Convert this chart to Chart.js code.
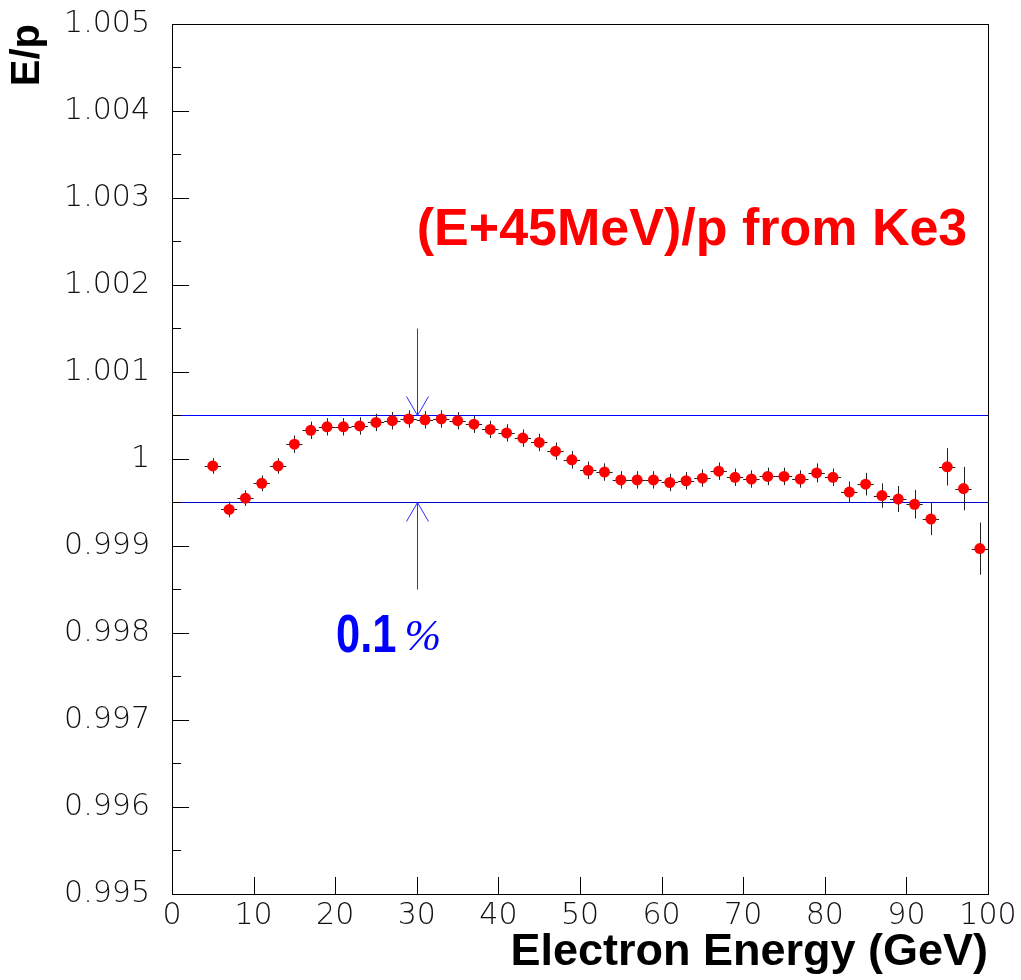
<!DOCTYPE html>
<html><head><meta charset="utf-8">
<script src="https://cdn.jsdelivr.net/npm/chart.js@4/dist/chart.umd.min.js"></script>
<style>html,body{margin:0;padding:0;background:#fff;}canvas{display:block;}</style>
</head><body>
<canvas id="c" width="1021" height="980"></canvas>
<script>
// ---- data ----
const energies = [5,7,9,11,13,15,17,19,21,23,25,27,29,31,33,35,37,39,41,43,45,47,49,51,53,55,57,59,61,63,65,67,69,71,73,75,77,79,81,83,85,87,89,91,93,95,97,99];
const ratios = [0.99992,0.99942,0.99955,0.99972,0.99992,1.00017,1.00033,1.00037,1.00037,1.00038,1.00042,1.00044,1.00046,1.00045,1.00046,1.00044,1.00040,1.00034,1.00030,1.00024,1.00019,1.00009,0.99999,0.99987,0.99985,0.99976,0.99976,0.99976,0.99973,0.99975,0.99978,0.99986,0.99979,0.99977,0.99980,0.99980,0.99977,0.99984,0.99979,0.99962,0.99971,0.99958,0.99954,0.99948,0.99931,0.99991,0.99966,0.99897];
const ratioErrors = [0.00009,0.00009,0.00009,0.00009,0.00009,0.0001,0.0001,0.0001,0.0001,0.0001,0.0001,0.0001,0.0001,0.0001,0.0001,0.0001,0.0001,0.0001,0.0001,0.0001,0.0001,0.0001,0.0001,0.0001,0.0001,0.0001,0.0001,0.0001,0.0001,0.0001,0.0001,0.0001,0.0001,0.0001,0.0001,0.0001,0.0001,0.00011,0.0001,0.00012,0.00013,0.00014,0.00015,0.000165,0.000185,0.000215,0.00025,0.0003];
const binHalfWidth = 1;
const yTickValues = [0.995,0.996,0.997,0.998,0.999,1.000,1.001,1.002,1.003,1.004,1.005];
const yMinorTickValues = [0.9955,0.9965,0.9975,0.9985,0.9995,1.0005,1.0015,1.0025,1.0035,1.0045];
const xTickValues = [0,10,20,30,40,50,60,70,80,90,100];
const bandUpper = 1.0005;
const bandLower = 0.9995;
const arrowX = 30;
const arrowDown = [1.0015, 1.0005];
const arrowUp = [0.9985, 0.9995];
const labelMain = '(E+45MeV)/p from Ke3';
const labelMainPos = [30, 1.00246];
const labelPctNum = '0.1';
const labelPctSign = '%';
const labelPctPos = [20.1, 0.99778];

const px = v => Math.round(v) + 0.5;
const pxf = v => Math.floor(v) + 0.5;

const overlay = {
  id: 'overlay',
  beforeDatasetsDraw(chart) {
    const {ctx, chartArea: a, scales: {x, y}} = chart;
    ctx.save();
    ctx.lineWidth = 1;
    // band lines
    ctx.strokeStyle = '#0000ff';
    const yu = pxf(y.getPixelForValue(bandUpper));
    ctx.beginPath(); ctx.moveTo(a.left, yu); ctx.lineTo(a.right, yu); ctx.stroke();
    ctx.strokeStyle = '#0000d0';
    const yl = px(y.getPixelForValue(bandLower));
    ctx.beginPath(); ctx.moveTo(a.left, yl); ctx.lineTo(a.right, yl); ctx.stroke();
    // error bars
    ctx.strokeStyle = '#222';
    energies.forEach((e, i) => {
      const cx = px(x.getPixelForValue(e));
      const cy = px(y.getPixelForValue(ratios[i]));
      ctx.beginPath();
      ctx.moveTo(cx, y.getPixelForValue(ratios[i] - ratioErrors[i]));
      ctx.lineTo(cx, y.getPixelForValue(ratios[i] + ratioErrors[i]));
      ctx.moveTo(x.getPixelForValue(e - binHalfWidth), cy);
      ctx.lineTo(x.getPixelForValue(e + binHalfWidth), cy);
      ctx.stroke();
    });
    ctx.restore();
  },
  afterDraw(chart) {
    const {ctx, chartArea: a, scales: {x, y}} = chart;
    ctx.save();
    ctx.lineWidth = 1;
    ctx.strokeStyle = '#000';
    // frame
    ctx.strokeRect(px(a.left), px(a.top), Math.round(a.right - a.left), Math.round(a.bottom - a.top));
    // ticks (inside)
    ctx.beginPath();
    yTickValues.forEach(v => { const yy = px(y.getPixelForValue(v)); ctx.moveTo(a.left, yy); ctx.lineTo(a.left + 17, yy); });
    yMinorTickValues.forEach(v => { const yy = px(y.getPixelForValue(v)); ctx.moveTo(a.left, yy); ctx.lineTo(a.left + 9, yy); });
    xTickValues.forEach(v => { const xx = px(x.getPixelForValue(v)); ctx.moveTo(xx, a.bottom); ctx.lineTo(xx, a.bottom - 17); });
    ctx.stroke();
    // arrows
    ctx.strokeStyle = '#2a2aff';
    const ax = px(x.getPixelForValue(arrowX));
    const drawArrow = (from, to) => {
      const y0 = y.getPixelForValue(from), y1 = y.getPixelForValue(to);
      const dir = y1 > y0 ? 1 : -1;
      ctx.beginPath();
      ctx.moveTo(ax, y0); ctx.lineTo(ax, y1);
      ctx.moveTo(ax - 11, y1 - dir * 19); ctx.lineTo(ax, y1); ctx.lineTo(ax + 11, y1 - dir * 19);
      ctx.stroke();
    };
    drawArrow(arrowDown[0], arrowDown[1]);
    drawArrow(arrowUp[0], arrowUp[1]);
    // texts
    ctx.textBaseline = 'alphabetic';
    ctx.textAlign = 'left';
    ctx.fillStyle = '#ff0000';
    ctx.font = 'bold 52px "Liberation Sans", Arial, sans-serif';
    ctx.fillText(labelMain, x.getPixelForValue(labelMainPos[0]), y.getPixelForValue(labelMainPos[1]));
    ctx.fillStyle = '#0000ff';
    const tx = x.getPixelForValue(labelPctPos[0]);
    const ty = y.getPixelForValue(labelPctPos[1]);
    ctx.font = 'bold 53px "Liberation Sans", Arial, sans-serif';
    const sx = 0.82;
    ctx.save();
    ctx.translate(tx, ty);
    ctx.scale(sx, 1);
    ctx.fillText(labelPctNum, 0, 0);
    ctx.restore();
    const w = ctx.measureText(labelPctNum).width * sx;
    ctx.font = 'italic 44px "Liberation Serif", "Times New Roman", serif';
    ctx.fillText(labelPctSign, tx + w + 8, ty - 2);
    ctx.restore();
  }
};

new Chart(document.getElementById('c').getContext('2d'), {
  type: 'scatter',
  data: {
    datasets: [{
      data: energies.map((e, i) => ({x: e, y: ratios[i]})),
      backgroundColor: '#ff0000',
      borderColor: '#ff0000',
      borderWidth: 0,
      pointRadius: 5.5,
      pointHoverRadius: 5.5,
      pointBorderWidth: 0
    }]
  },
  options: {
    responsive: false,
    animation: false,
    devicePixelRatio: 1,
    events: [],
    layout: {padding: {left: 0, right: 33, top: 24, bottom: 0}},
    plugins: {legend: {display: false}, tooltip: {enabled: false}},
    scales: {
      x: {
        type: 'linear', min: 0, max: 100,
        afterBuildTicks(s) { s.ticks = xTickValues.map(v => ({value: v})); },
        afterFit(s) { s.height = 86; s.paddingLeft = 0; s.paddingRight = 0; },
        ticks: {font: {family: 'DejaVu Sans', size: 30, weight: 200}, color: '#111', padding: 4, maxRotation: 0, autoSkip: false},
        grid: {display: false, drawTicks: false},
        border: {display: false},
        title: {display: true, text: 'Electron Energy (GeV)', align: 'end', color: '#000',
          font: {family: '"Liberation Sans", Arial, sans-serif', size: 45, weight: 'bold', lineHeight: 1.2},
          padding: {top: 0, bottom: 0}}
      },
      y: {
        type: 'linear', min: 0.995, max: 1.005,
        afterBuildTicks(s) { s.ticks = yTickValues.map(v => ({value: v})); },
        afterFit(s) { s.width = 172; s.paddingTop = 0; s.paddingBottom = 0; },
        ticks: {font: {family: 'DejaVu Sans', size: 30, weight: 200}, color: '#111', padding: 22, autoSkip: false,
          callback: v => (Math.abs(v - 1) < 1e-9 ? '1' : v.toFixed(3))},
        grid: {display: false, drawTicks: false},
        border: {display: false},
        title: {display: true, text: 'E/p', align: 'end', color: '#000',
          font: {family: '"Liberation Sans", Arial, sans-serif', size: 40, weight: 'bold', lineHeight: 1.2},
          padding: {top: 4, bottom: 0}}
      }
    }
  },
  plugins: [overlay]
});
</script>
</body></html>
